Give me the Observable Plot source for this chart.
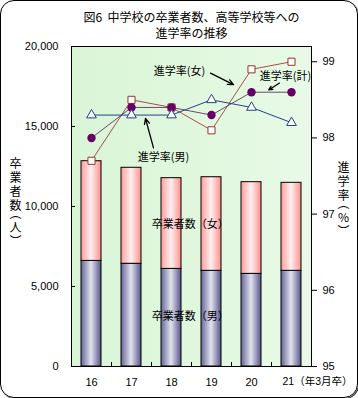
<!DOCTYPE html>
<html>
<head>
<meta charset="utf-8">
<script src="https://cdn.jsdelivr.net/npm/d3@7"></script>
<script src="https://cdn.jsdelivr.net/npm/@observablehq/plot@0.6"></script>
<style>
  html, body { margin: 0; padding: 0; background: #fff; }
  #wrap { position: relative; width: 358px; height: 398px; overflow: hidden; }
  #chart { position: absolute; left: 0; top: 0; }
  .vlabel { position: absolute; writing-mode: vertical-rl; text-orientation: upright;
            font-family: "Noto Sans CJK JP", sans-serif; font-size: 12px; line-height: 14px;
            letter-spacing: 2px; color: #000; }
  .vlabel .p { letter-spacing: -4px; }
  .vlabel .q { letter-spacing: -1px; }
  #border { position: absolute; left: 0; top: 0; width: 356px; height: 396px;
            border: 1px solid #000; border-radius: 14px; pointer-events: none;
            box-shadow: 1px 1px 0 #444; }
</style>
</head>
<body>
<div id="wrap">
  <div id="chart"></div>
  <div class="vlabel" style="left:8px; top:157px;">卒業者<span class="p">数</span>（人<span class="q">）</span></div>
  <div class="vlabel" style="left:336px; top:161px;">進学<span class="p">率</span>（%<span class="q">）</span></div>
  <div id="border"></div>
</div>
<script>
// ---- data ----
const years = [16, 17, 18, 19, 20, 21];
const maleGrad = [6600, 6420, 6100, 5980, 5790, 5980];
const femaleGrad = [6230, 6000, 5670, 5850, 5730, 5500];
const rateFemale = [97.7, 98.5, 98.4, 98.1, 98.9, 99.0];
const rateTotal = [98.0, 98.4, 98.4, 98.3, 98.6, 98.6];
const rateMale = [98.3, 98.3, 98.3, 98.5, 98.4, 98.2];
const leftTicks = [0, 5000, 10000, 15000, 20000];
const rightTicks = [95, 96, 97, 98, 99];
const xTickLabels = ["16", "17", "18", "19", "20"];
const lastLabel = "21（年3月卒）";
const titleLines = ["図6  中学校の卒業者数、高等学校等への", "進学率の推移"];

// annotations (x in year units, y in rate or count units)
const noteText = ["進学率(女)", "進学率(男)"];
const noteX = [18.2, 17.8];
const noteRate = [98.87, 97.74];
const boxNoteText = ["進学率(計)"];
const boxNoteX = [20.85];
const boxNoteRate = [98.81];
const arrowX1 = [18.975, 20.7, 17.55];
const arrowR1 = [98.85, 98.72, 97.87];
const arrowX2 = [19.55, 20.43, 17.35];
const arrowR2 = [98.70, 98.63, 98.255];
const countNoteText = ["卒業者数（女）", "卒業者数（男）"];
const countNoteX = [18.47, 18.47];
const countNoteY = [8890, 3125];

// ---- dual-axis mapping ----
const countMax = 20000, rateMin = 95, rateMax = 99.2;
const toY = r => (r - rateMin) / (rateMax - rateMin) * countMax;
const fromY = v => rateMin + v / countMax * (rateMax - rateMin);

const totalGrad = maleGrad.map((m, i) => m + femaleGrad[i]);
const boundaries = years.slice(0, -1).map(y => y + 0.5);

const font = '"Liberation Sans", "Noto Sans CJK JP", sans-serif';
const jp = '"Noto Sans CJK JP", sans-serif';

function defs() {
  const d = d3.create("svg:defs");
  const gm = d.append("linearGradient").attr("id", "gMale").attr("x1", 0).attr("x2", 1).attr("y1", 0).attr("y2", 0);
  gm.append("stop").attr("offset", "0%").attr("stop-color", "#66669a");
  gm.append("stop").attr("offset", "50%").attr("stop-color", "#e2e2ee");
  gm.append("stop").attr("offset", "100%").attr("stop-color", "#555588");
  const gf = d.append("linearGradient").attr("id", "gFemale").attr("x1", 0).attr("x2", 1).attr("y1", 0).attr("y2", 0);
  gf.append("stop").attr("offset", "0%").attr("stop-color", "#ff9c9c");
  gf.append("stop").attr("offset", "50%").attr("stop-color", "#fff0f0");
  gf.append("stop").attr("offset", "100%").attr("stop-color", "#ff8e8e");
  const gb = d.append("linearGradient").attr("id", "gBg").attr("x1", 0).attr("x2", 1).attr("y1", 0).attr("y2", 0);
  gb.append("stop").attr("offset", "0%").attr("stop-color", "#d9f5d6");
  gb.append("stop").attr("offset", "100%").attr("stop-color", "#e8fae6");
  return d.node();
}

const svg = Plot.plot({
  width: 358,
  height: 398,
  marginTop: 46,
  marginBottom: 32,
  marginLeft: 71,
  marginRight: 47,
  x: { domain: [15.5, 21.5], axis: null },
  y: { domain: [0, countMax], axis: null },
  style: { fontFamily: font, fontSize: "11px", background: "transparent", overflow: "visible", color: "#000" },
  marks: [
    defs,
    Plot.frame({ fill: "url(#gBg)", stroke: null }),
    // bars
    Plot.rectY(years, { x1: d => d - 0.25, x2: d => d + 0.25, y1: 0, y2: (d, i) => maleGrad[i],
      fill: "url(#gMale)", stroke: "#000", strokeWidth: 1 }),
    Plot.rectY(years, { x1: d => d - 0.25, x2: d => d + 0.25, y1: (d, i) => maleGrad[i], y2: (d, i) => totalGrad[i],
      fill: "url(#gFemale)", stroke: "#000", strokeWidth: 1 }),
    Plot.frame({ stroke: "#000", strokeWidth: 1 }),
    // boundary ticks on x axis
    Plot.ruleX(boundaries, { x: d => d, y1: 0, y2: 250, stroke: "#000" }),
    // axes
    Plot.axisY({ anchor: "left", ticks: leftTicks, tickFormat: d3.format(","), tickSize: -4, tickPadding: 17, label: null, fontSize: 11 }),
    Plot.axisY({ anchor: "right", ticks: rightTicks.map(toY), tickFormat: v => fromY(v).toFixed(0), tickSize: 5, tickPadding: 6, label: null, fontSize: 11 }),
    Plot.axisX({ ticks: years.slice(0, -1), tickFormat: (d, i) => xTickLabels[i], tickSize: 0, tickPadding: 12, label: null, fontSize: 11 }),
    Plot.text([lastLabel], { x: years[years.length - 1], frameAnchor: "bottom", dy: 18, dx: -9, textAnchor: "start", fontSize: 10.5 }),
    // lines
    Plot.line(years, { x: d => d, y: (d, i) => toY(rateFemale[i]), stroke: "#a5504c", strokeWidth: 1 }),
    Plot.dot(years, { x: d => d, y: (d, i) => toY(rateFemale[i]), symbol: "square", r: 4, fill: "#fff", stroke: "#993333", strokeWidth: 1 }),
    Plot.line(years, { x: d => d, y: (d, i) => toY(rateTotal[i]), stroke: "#6a4a6a", strokeWidth: 1 }),
    Plot.dot(years, { x: d => d, y: (d, i) => toY(rateTotal[i]), symbol: "circle", r: 4.2, fill: "#660066", stroke: null }),
    Plot.line(years, { x: d => d, y: (d, i) => toY(rateMale[i]), stroke: "#23408e", strokeWidth: 1 }),
    Plot.dot(years, { x: d => d, y: (d, i) => toY(rateMale[i]), symbol: "triangle", r: 3.6, fill: "#fff", stroke: "#23408e", strokeWidth: 1 }),
    // annotations
    Plot.arrow(arrowX1, { x1: d => d, y1: (d, i) => toY(arrowR1[i]), x2: (d, i) => arrowX2[i], y2: (d, i) => toY(arrowR2[i]),
      stroke: "#000", strokeWidth: 1.3, headLength: 7, headAngle: 50 }),
    Plot.text(noteText, { x: (d, i) => noteX[i], y: (d, i) => toY(noteRate[i]), text: d => d, fontSize: 11, fontFamily: jp }),
    Plot.text(boxNoteText, { x: (d, i) => boxNoteX[i], y: (d, i) => toY(boxNoteRate[i]), text: d => d, fontSize: 11, fontFamily: jp, ariaLabel: "boxlabel" }),
    Plot.text(countNoteText, { x: (d, i) => countNoteX[i], y: (d, i) => countNoteY[i], text: d => d, fontSize: 11, fontFamily: jp, ariaLabel: "boxlabel" }),
    // title
    Plot.text([titleLines[0]], { frameAnchor: "top", dy: -33, text: d => d, fontSize: 12, fontFamily: jp }),
    Plot.text([titleLines[1]], { frameAnchor: "top", dy: -17, text: d => d, fontSize: 12, fontFamily: jp })
  ]
});

document.getElementById("chart").appendChild(svg);

// white boxes behind some labels
d3.select(svg).selectAll('g[aria-label="boxlabel"] text').each(function () {
  const b = this.getBBox();
  const r = document.createElementNS("http://www.w3.org/2000/svg", "rect");
  r.setAttribute("x", b.x - 1.5);
  r.setAttribute("y", b.y + 0.5);
  r.setAttribute("width", b.width + 3);
  r.setAttribute("height", b.height - 1);
  r.setAttribute("fill", "#fff");
  const t = this.getAttribute("transform");
  if (t) r.setAttribute("transform", t);
  this.parentNode.insertBefore(r, this);
});
</script>
</body>
</html>
